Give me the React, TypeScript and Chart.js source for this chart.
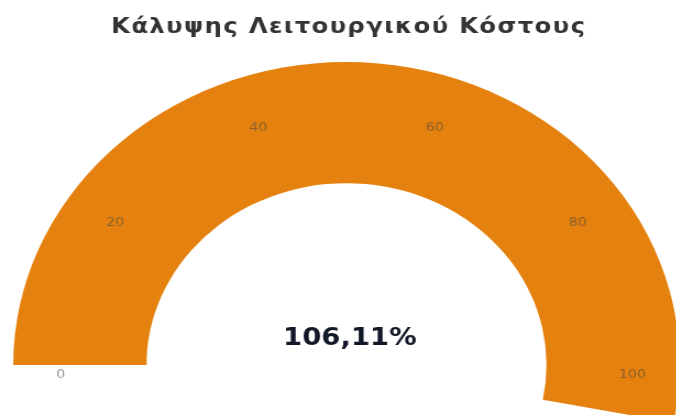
import React, { useEffect, useRef } from 'react';
import { Chart, registerables } from 'chart.js';

Chart.register(...registerables);

const TITLE = 'Κάλυψης Λειτουργικού Κόστους';
const GAUGE_MIN = 0;
const GAUGE_MAX = 100;
const SERIES_LABELS = ['Κάλυψη'];
const VALUES = [106.11];
const TICK_VALUES = [0, 20, 40, 60, 80, 100];
const TICK_LABELS = ['0', '20', '40', '60', '80', '100'];
const COLORS = ['#E5820F'];

export default function App() {
  const ref = useRef<HTMLCanvasElement>(null);

  useEffect(() => {
    if (!ref.current) return;
    const value = VALUES[0];
    const frac = (value - GAUGE_MIN) / (GAUGE_MAX - GAUGE_MIN);

    const gaugePlugin = {
      id: 'gaugeText',
      afterDatasetsDraw(chart: any) {
        const arc = chart.getDatasetMeta(0).data[0] as any;
        if (!arc) return;
        const { x, y, outerRadius } = arc;
        const ctx = chart.ctx;
        ctx.save();
        // title
        ctx.font = 'bold 22px "DejaVu Sans"';
        ctx.fillStyle = '#333333';
        ctx.textAlign = 'center';
        ctx.textBaseline = 'alphabetic';
        (ctx as any).letterSpacing = '1.3px';
        ctx.fillText(TITLE, x + 2, 33);
        (ctx as any).letterSpacing = '0px';
        // tick labels
        ctx.font = '13px "DejaVu Sans"';
        ctx.fillStyle = 'rgba(70,70,70,0.55)';
        ctx.textAlign = 'center';
        ctx.textBaseline = 'middle';
        TICK_VALUES.forEach((t, i) => {
          const a = Math.PI + ((t - GAUGE_MIN) / (GAUGE_MAX - GAUGE_MIN)) * Math.PI;
          const r = outerRadius * 0.858;
          ctx.fillText(TICK_LABELS[i], x + r * Math.cos(a), y + r * Math.sin(a) + 10);
        });
        // value
        ctx.font = 'bold 25px "DejaVu Sans"';
        ctx.fillStyle = '#111827';
        ctx.textBaseline = 'alphabetic';
        ctx.fillText(value.toFixed(2).replace('.', ',') + '%', x + 3, y - 20);
        ctx.restore();
      },
    };

    const chart = new Chart(ref.current, {
      type: 'doughnut',
      data: {
        labels: SERIES_LABELS,
        datasets: [{ data: VALUES, backgroundColor: COLORS, borderWidth: 0 }],
      },
      options: {
        animation: false,
        responsive: false,
        maintainAspectRatio: false,
        rotation: -90,
        circumference: 180 * frac,
        cutout: '60%',
        layout: { padding: { left: 12, right: 2, top: 62, bottom: 17.2 } },
        plugins: {
          legend: { display: false },
          tooltip: { enabled: false },
          title: { display: false },
        },
      } as any,
      plugins: [gaugePlugin],
    });
    return () => chart.destroy();
  }, []);

  return (
    <div style={{ position: 'absolute', left: 0, top: 0, width: 676, height: 415, overflow: 'hidden', background: '#fff' }}>
      <div style={{ transform: 'scaleX(1.1)', transformOrigin: '0 0', width: 620, height: 440 }}>
        <canvas ref={ref} width={620} height={440} style={{ width: 620, height: 440, display: 'block' }} />
      </div>
    </div>
  );
}
